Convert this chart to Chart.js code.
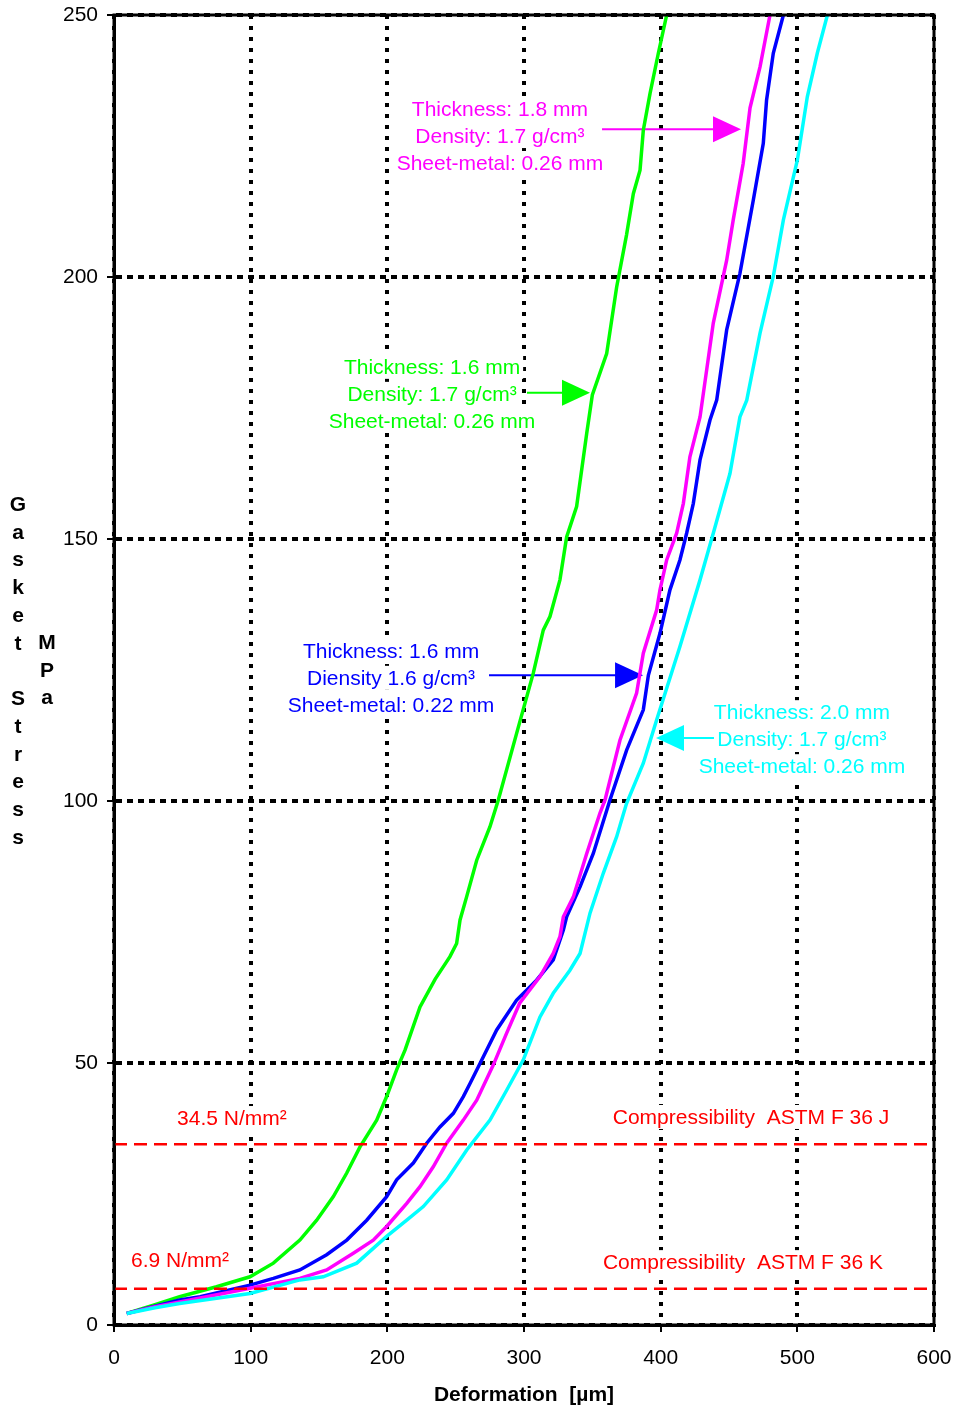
<!DOCTYPE html>
<html>
<head>
<meta charset="utf-8">
<title>Gasket stress vs deformation</title>
<script src="https://cdn.jsdelivr.net/npm/chart.js@4.4.1/dist/chart.umd.min.js"></script>
<style>
  html, body { margin: 0; padding: 0; background: #fff; }
  #wrap { width: 953px; height: 1408px; position: relative; }
</style>
</head>
<body>
<div id="wrap"><canvas id="chart" width="953" height="1408"></canvas></div>
<script>
// axis ticks
const xTicks = [0, 100, 200, 300, 400, 500, 600];
const yTicks = [0, 50, 100, 150, 200, 250];

// 1.6 mm / 1.7 g/cm3 / 0.26 mm  (green)
const greenX = [9.3, 30, 48, 75, 99.5, 116.6, 136, 148.3, 160.5, 170.3, 180, 192.2, 199.5, 206.8, 213, 223.9, 235, 245.8, 250.7, 253.2, 258, 265.4, 275.1, 281.2, 294.6, 306.8, 314.1, 319, 326.3, 331.2, 338.5, 345.9, 350, 360.5, 367.8, 375, 380, 384.9, 387.3, 392.2, 398.3, 404.4];
const greenY = [2.2, 3.9, 5.4, 7.3, 9.2, 11.8, 16.2, 20, 24.5, 29, 34, 39.1, 43.6, 48.7, 52.5, 60.7, 66, 70.3, 72.8, 77.3, 81.7, 88.7, 95.1, 100.2, 112.9, 124.4, 132.6, 135.2, 142.2, 150.4, 156.2, 170.2, 177.5, 185.4, 198.1, 208, 215.9, 220.4, 228, 235, 242.7, 250];

// 1.6 mm / 1.6 g/cm3 / 0.22 mm  (blue)
const blueX = [9.3, 30, 48, 63, 99.5, 116.6, 136, 155.6, 170.3, 184.9, 199.5, 206.8, 219, 228.8, 238.5, 248.3, 255.6, 260.5, 267.8, 280, 294.6, 309.2, 321.4, 328.8, 331.2, 341, 350.7, 362.9, 375.1, 387.3, 391, 399.5, 406.8, 414.1, 419, 423.9, 428.8, 436.1, 441, 448.3, 458, 467.8, 475.1, 477.5, 482.4, 489.8];
const blueY = [2.2, 3.6, 4.8, 5.4, 7.6, 8.9, 10.5, 13.4, 16.2, 20, 24.5, 27.7, 30.9, 34.7, 37.8, 40.4, 43.6, 46.1, 49.9, 56.3, 62, 65.8, 69.7, 75.4, 77.9, 83.6, 90, 100.2, 109.7, 117.4, 124, 132, 140.3, 146, 151.1, 156.8, 165.1, 172.7, 176.5, 189.9, 200.7, 214.7, 225.5, 233.8, 242.7, 250];

// 1.8 mm / 1.7 g/cm3 / 0.26 mm  (magenta)
const magentaX = [9.3, 30, 50, 99.5, 136, 155.6, 175.1, 189.7, 199.5, 214.2, 223.9, 233.6, 243.4, 255.6, 265.4, 277.5, 287.3, 296.8, 311.7, 321.4, 326.3, 328.8, 336.1, 345.9, 355.6, 359.3, 370.2, 382.4, 387.3, 397.1, 399.5, 404.4, 411.7, 416.6, 421.4, 428.8, 438.5, 448.3, 453.1, 460.4, 465.4, 472.7, 480];
const magentaY = [2.2, 3.5, 4.5, 7, 8.9, 10.5, 13.7, 16.2, 18.8, 23.2, 26.4, 30.2, 34.7, 39.1, 42.9, 49.6, 55.7, 61.4, 66.5, 70.9, 74.1, 77.9, 81.7, 90, 97.7, 100.2, 111.6, 120.6, 128.2, 136.5, 140.3, 146, 151.1, 156.8, 165.7, 173.3, 191.2, 203.2, 210.9, 221.7, 232.3, 240.1, 250];

// 2.0 mm / 1.7 g/cm3 / 0.26 mm  (cyan)
const cyanX = [9.3, 30, 48, 99.5, 136, 153.1, 177.6, 199.5, 214.2, 226.3, 243.4, 258.1, 275.1, 287.3, 299.5, 311.7, 321.4, 333.6, 341, 348.3, 358, 367.8, 375, 387.3, 397.1, 414.1, 428.8, 438.5, 450.7, 458, 463, 472.7, 482.4, 489.8, 500, 507.3, 514.6, 522];
const cyanY = [2.2, 3.3, 4.1, 6, 8.6, 9.2, 11.8, 16.9, 20, 22.6, 27.7, 33.4, 39.1, 44.8, 50.6, 58.8, 63.3, 67.7, 70.9, 78.6, 86.2, 93.2, 99.5, 107.2, 115.5, 129.5, 142.2, 151.1, 162.5, 173.3, 176.5, 189.3, 200.1, 210.9, 222.3, 234.4, 242.7, 250];

// ASTM F 36 reference stresses
const limitJ = 34.5;
const limitK = 6.9;

const FONT = "'Liberation Sans', Arial, sans-serif";
const toPoints = (xs, ys) => xs.map((x, i) => ({ x: x, y: ys[i] }));

// annotation blocks, positions in data units
const notes = [
  { color: '#ff00ff', x: 282.4, y: 226.9, lines: ['Thickness: 1.8 mm', 'Density: 1.7 g/cm³', 'Sheet-metal: 0.26 mm'],
    arrow: { from: 357.1, to: 458.8, y: 228.2 } },
  { color: '#00ff00', x: 232.7, y: 177.7, lines: ['Thickness: 1.6 mm', 'Density: 1.7 g/cm³', 'Sheet-metal: 0.26 mm'],
    arrow: { from: 302.2, to: 348.3, y: 177.9 } },
  { color: '#0000ff', x: 202.7, y: 123.5, lines: ['Thickness: 1.6 mm', 'Diensity 1.6 g/cm³', 'Sheet-metal: 0.22 mm'],
    arrow: { from: 274.4, to: 387.1, y: 124.0 } },
  { color: '#00ffff', x: 503.4, y: 111.8, lines: ['Thickness: 2.0 mm', 'Density: 1.7 g/cm³', 'Sheet-metal: 0.26 mm'],
    arrow: { from: 439.0, to: 396.6, y: 112.0 } },
  { color: '#ff0000', x: 86.3, y: 39.5, lines: ['34.5 N/mm²'] },
  { color: '#ff0000', x: 48.3, y: 12.4, lines: ['6.9 N/mm²'] },
  { color: '#ff0000', x: 466.1, y: 39.7, lines: ['Compressibility  ASTM F 36 J'] },
  { color: '#ff0000', x: 460.2, y: 12.0, lines: ['Compressibility  ASTM F 36 K'] },
];

const notesPlugin = {
  id: 'notes',
  beforeDatasetsDraw(chart) {
    const { ctx, scales: { x, y } } = chart;
    ctx.save();
    ctx.font = '21px ' + FONT;
    ctx.textAlign = 'center';
    ctx.textBaseline = 'middle';
    const lh = 27;
    notes.forEach(n => {
      const cx = x.getPixelForValue(n.x);
      const cy = y.getPixelForValue(n.y);
      const top = cy - (n.lines.length - 1) * lh / 2;
      // white boxes so the grid does not run through the text
      n.lines.forEach((t, i) => {
        const w = ctx.measureText(t).width;
        ctx.fillStyle = '#fff';
        ctx.fillRect(cx - w / 2 - 3, top + i * lh - 12, w + 6, 24);
      });
      ctx.fillStyle = n.color;
      n.lines.forEach((t, i) => ctx.fillText(t, cx, top + i * lh + 1));
      if (n.arrow) {
        const x1 = x.getPixelForValue(n.arrow.from);
        const x2 = x.getPixelForValue(n.arrow.to);
        const ay = y.getPixelForValue(n.arrow.y);
        const dir = x2 > x1 ? 1 : -1;
        ctx.strokeStyle = n.color;
        ctx.lineWidth = 2;
        ctx.beginPath();
        ctx.moveTo(x1, ay);
        ctx.lineTo(x2 - dir * 20, ay);
        ctx.stroke();
        ctx.beginPath();
        ctx.moveTo(x2, ay);
        ctx.lineTo(x2 - dir * 28, ay - 13);
        ctx.lineTo(x2 - dir * 28, ay + 13);
        ctx.closePath();
        ctx.fill();
      }
    });
    ctx.restore();
  },
  afterDatasetsDraw(chart) {
    const { ctx, chartArea: a } = chart;
    ctx.save();
    ctx.strokeStyle = '#000';
    ctx.lineWidth = 3;
    ctx.strokeRect(a.left, a.top, a.right - a.left, a.bottom - a.top);
    ctx.restore();
  },
  afterDraw(chart) {
    // stacked vertical axis title
    const ctx = chart.ctx;
    ctx.save();
    ctx.font = 'bold 21px ' + FONT;
    ctx.fillStyle = '#000';
    ctx.textAlign = 'center';
    ctx.textBaseline = 'middle';
    'Gasket Stress'.split('').forEach((c, i) => ctx.fillText(c, 18, 505 + i * 27.75));
    'MPa'.split('').forEach((c, i) => ctx.fillText(c, 47, 643 + i * 27.75));
    ctx.restore();
  }
};

const curve = (label, xs, ys, color) => ({
  label: label,
  data: toPoints(xs, ys),
  borderColor: color,
  borderWidth: 3.5,
  pointRadius: 0,
  tension: 0,
  fill: false
});
const limitLine = (label, v) => ({
  label: label,
  data: [{ x: 0, y: v }, { x: 600, y: v }],
  borderColor: '#ff0000',
  borderWidth: 2.5,
  borderDash: [13, 7],
  pointRadius: 0,
  fill: false
});

new Chart(document.getElementById('chart'), {
  type: 'line',
  data: {
    datasets: [
      limitLine('ASTM F 36 J', limitJ),
      limitLine('ASTM F 36 K', limitK),
      curve('2.0 mm', cyanX, cyanY, '#00ffff'),
      curve('1.8 mm', magentaX, magentaY, '#ff00ff'),
      curve('1.6 mm / 0.22', blueX, blueY, '#0000ff'),
      curve('1.6 mm / 0.26', greenX, greenY, '#00ff00'),
    ]
  },
  options: {
    responsive: false,
    animation: false,
    devicePixelRatio: 1,
    layout: { padding: { top: 15, right: 19, left: 0, bottom: 0 } },
    plugins: { legend: { display: false }, tooltip: { enabled: false } },
    scales: {
      x: {
        type: 'linear',
        min: 0, max: 600,
        afterBuildTicks: s => { s.ticks = xTicks.map(v => ({ value: v })); },
        afterFit: s => { s.height = 83; s.paddingLeft = 0; s.paddingRight = 0; },
        ticks: { color: '#000', font: { family: FONT, size: 21 }, padding: 14, maxRotation: 0 },
        grid: { color: '#000', lineWidth: 4, tickLength: 7, tickWidth: 2, tickColor: '#000' },
        border: { display: true, color: '#000', width: 3, dash: [4, 7] },
        title: { display: true, text: 'Deformation  [µm]', color: '#000',
                 font: { family: FONT, size: 21, weight: 'bold' }, padding: { top: 0, bottom: 0 } }
      },
      y: {
        type: 'linear',
        min: 0, max: 250,
        afterBuildTicks: s => { s.ticks = yTicks.map(v => ({ value: v })); },
        afterFit: s => { s.width = 114; s.paddingTop = 0; s.paddingBottom = 0; },
        ticks: { color: '#000', font: { family: FONT, size: 21 }, padding: 9 },
        grid: { color: '#000', lineWidth: 4, tickLength: 7, tickWidth: 2, tickColor: '#000' },
        border: { display: true, color: '#000', width: 3, dash: [6, 5] }
      }
    }
  },
  plugins: [notesPlugin]
});
</script>
</body>
</html>
